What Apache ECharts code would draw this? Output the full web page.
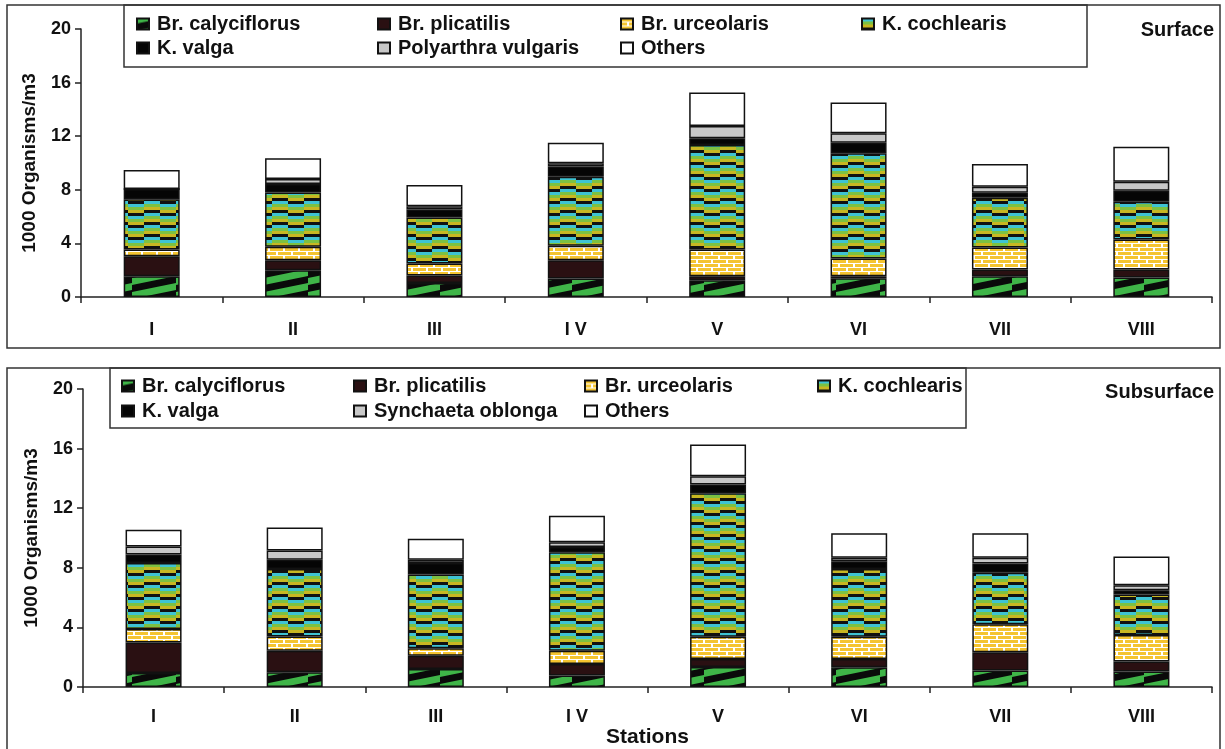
<!DOCTYPE html>
<html>
<head>
<meta charset="utf-8">
<script src="https://cdn.jsdelivr.net/npm/echarts@6/dist/echarts.min.js"></script>
<style>
  html, body { margin: 0; padding: 0; background: #fff; }
  #chart { width: 1225px; height: 749px; }
</style>
</head>
<body>
<div id="chart"></div>
<script>
const stations = ['I', 'II', 'III', 'I V', 'V', 'VI', 'VII', 'VIII']
const yTicks = [0, 4, 8, 12, 16, 20]

// Surface (1000 organisms / m3)
const surfCalyciflorus = [1.55, 2.0, 1.05, 1.38, 1.25, 1.4, 1.55, 1.45]
const surfPlicatilis = [1.49, 0.75, 0.55, 1.37, 0.3, 0.15, 0.5, 0.6]
const surfUrceolaris = [0.5, 1.0, 0.9, 1.07, 2.0, 1.32, 1.64, 2.24]
const surfCochlearis = [3.76, 4.05, 3.44, 5.16, 7.8, 7.85, 3.71, 2.81]
const surfValga = [0.76, 0.63, 0.59, 0.75, 0.5, 0.8, 0.38, 0.83]
const surfPolyarthra = [0, 0.37, 0.25, 0.25, 0.92, 0.7, 0.45, 0.67]
const surfOthers = [1.42, 1.55, 1.57, 1.54, 2.49, 2.29, 1.69, 2.62]

// Subsurface
const subCalyciflorus = [0.95, 1.0, 1.22, 0.78, 1.35, 1.33, 1.11, 1.04]
const subPlicatilis = [2.05, 1.44, 0.88, 0.77, 0.54, 0.56, 1.22, 0.67]
const subUrceolaris = [0.89, 0.96, 0.5, 0.89, 1.48, 1.48, 1.89, 1.78]
const subCochlearis = [4.44, 4.53, 4.95, 6.6, 9.63, 4.56, 3.45, 2.73]
const subValga = [0.56, 0.62, 0.78, 0.36, 0.6, 0.51, 0.62, 0.27]
const subSynchaeta = [0.55, 0.62, 0.22, 0.31, 0.55, 0.23, 0.38, 0.35]
const subOthers = [1.11, 1.54, 1.4, 1.78, 2.12, 1.66, 1.66, 1.93]

// little canvas tiles to mimic the printed fill patterns
function tile(w, h, draw) {
  const c = document.createElement('canvas')
  c.width = w
  c.height = h
  draw(c.getContext('2d'), w, h)
  return { image: c, repeat: 'repeat' }
}

const fillCalyciflorus = tile(44, 14, (g, w, h) => {
  g.fillStyle = '#0a0a0a'
  g.fillRect(0, 0, w, h)
  g.fillStyle = '#3fb548'
  for (const off of [-14, 0, 14]) {
    g.beginPath()
    g.moveTo(0, 12 + off)
    g.lineTo(w, 3 + off)
    g.lineTo(w, 10 + off)
    g.lineTo(0, 19 + off)
    g.closePath()
    g.fill()
  }
})

const fillUrceolaris = tile(30, 8, (g, w, h) => {
  g.fillStyle = '#ffffff'
  g.fillRect(0, 0, w, h)
  g.fillStyle = '#f4c430'
  g.fillRect(0, 0, 13, 3)
  g.fillRect(15, 0, 13, 3)
  g.fillRect(-7, 4, 13, 3)
  g.fillRect(8, 4, 13, 3)
  g.fillRect(23, 4, 13, 3)
})

const fillCochlearis = tile(32, 12, (g, w, h) => {
  const cols = ['#3ec3d3', '#7cc142', '#c8b722', '#111111']
  for (let r = 0; r < 4; r++) {
    for (let b = 0; b < 2; b++) {
      g.fillStyle = cols[(r + b) % 4]
      g.fillRect(b * 16, r * 3, 16, 3)
    }
  }
})

const styles = {
  'Br. calyciflorus': fillCalyciflorus,
  'Br. plicatilis': '#2a1012',
  'Br. urceolaris': fillUrceolaris,
  'K. cochlearis': fillCochlearis,
  'K. valga': '#050505',
  'Polyarthra vulgaris': '#c8c8c8',
  'Synchaeta oblonga': '#c8c8c8',
  'Others': '#ffffff'
}

function barSeries(name, data, idx, stack) {
  return {
    name,
    type: 'bar',
    stack,
    xAxisIndex: idx,
    yAxisIndex: idx,
    data,
    barWidth: 56,
    itemStyle: { color: styles[name], borderColor: '#111', borderWidth: 1.5 },
    emphasis: { disabled: true }
  }
}

const surfSeries = [
  ['Br. calyciflorus', surfCalyciflorus],
  ['Br. plicatilis', surfPlicatilis],
  ['Br. urceolaris', surfUrceolaris],
  ['K. cochlearis', surfCochlearis],
  ['K. valga', surfValga],
  ['Polyarthra vulgaris', surfPolyarthra],
  ['Others', surfOthers]
].map(([n, d]) => barSeries(n, d, 0, 'surf'))

const subSeries = [
  ['Br. calyciflorus', subCalyciflorus],
  ['Br. plicatilis', subPlicatilis],
  ['Br. urceolaris', subUrceolaris],
  ['K. cochlearis', subCochlearis],
  ['K. valga', subValga],
  ['Synchaeta oblonga', subSynchaeta],
  ['Others', subOthers]
].map(([n, d]) => barSeries(n, d, 1, 'sub'))

const font = 'Liberation Sans, Arial, sans-serif'
const text = (size) => ({ color: '#111', fontFamily: font, fontWeight: 'bold', fontSize: size })

function legendCol(left, top, names, gap) {
  return {
    orient: 'vertical',
    left,
    top,
    icon: 'rect',
    itemWidth: 12,
    itemHeight: 11,
    itemGap: gap,
    selectedMode: false,
    data: names,
    textStyle: Object.assign({ padding: [0, 0, 0, 3] }, text(20))
  }
}

function xAxis(gridIndex, margin, extra) {
  return Object.assign({
    type: 'category',
    gridIndex,
    data: stations,
    axisLine: { lineStyle: { color: '#222', width: 1.5 } },
    axisTick: { show: true, length: 6, lineStyle: { color: '#222', width: 1.5 } },
    axisLabel: Object.assign({ margin }, text(18))
  }, extra || {})
}

function yAxis(gridIndex) {
  return {
    type: 'value',
    gridIndex,
    min: 0,
    max: 20,
    interval: 4,
    name: '1000 Organisms/m3',
    nameLocation: 'middle',
    nameGap: 42,
    nameTextStyle: text(19),
    splitLine: { show: false },
    axisLine: { show: true, lineStyle: { color: '#222', width: 1.5 } },
    axisTick: { show: true, length: 6, lineStyle: { color: '#222', width: 1.5 } },
    axisLabel: Object.assign({ margin: 10, formatter: v => (yTicks.includes(v) ? String(v) : '') }, text(18))
  }
}

const chart = echarts.init(document.getElementById('chart'))

chart.setOption({
  animation: false,
  backgroundColor: '#fff',
  title: [
    { text: 'Surface', right: 6, top: 15, textStyle: text(20) },
    { text: 'Subsurface', right: 6, top: 377, textStyle: text(20) }
  ],
  legend: [
    legendCol(131, 9, ['Br. calyciflorus', 'K. valga'], 4),
    legendCol(372, 9, ['Br. plicatilis', 'Polyarthra vulgaris'], 4),
    legendCol(615, 9, ['Br. urceolaris', 'Others'], 4),
    legendCol(856, 9, ['K. cochlearis'], 4),
    legendCol(116, 371, ['Br. calyciflorus', 'K. valga'], 5),
    legendCol(348, 371, ['Br. plicatilis', 'Synchaeta oblonga'], 5),
    legendCol(579, 371, ['Br. urceolaris', 'Others'], 5),
    legendCol(812, 371, ['K. cochlearis'], 5)
  ],
  grid: [
    { left: 81, right: 13, top: 29, height: 268 },
    { left: 83, right: 13, top: 389, height: 300 }
  ],
  xAxis: [
    xAxis(0, 24),
    xAxis(1, 21, {
      name: 'Stations',
      nameLocation: 'middle',
      nameGap: 26,
      nameTextStyle: text(21)
    })
  ],
  yAxis: [yAxis(0), yAxis(1)],
  graphic: [
    { type: 'rect', shape: { x: 7, y: 5, width: 1213, height: 343 }, style: { fill: 'none', stroke: '#333', lineWidth: 1.5 }, z: -1 },
    { type: 'rect', shape: { x: 124, y: 5, width: 963, height: 62 }, style: { fill: 'none', stroke: '#333', lineWidth: 1.5 }, z: -1 },
    { type: 'rect', shape: { x: 7, y: 368, width: 1213, height: 400 }, style: { fill: 'none', stroke: '#333', lineWidth: 1.5 }, z: -1 },
    { type: 'rect', shape: { x: 110, y: 368, width: 856, height: 60 }, style: { fill: 'none', stroke: '#333', lineWidth: 1.5 }, z: -1 }
  ],
  series: surfSeries.concat(subSeries)
})
</script>
</body>
</html>
